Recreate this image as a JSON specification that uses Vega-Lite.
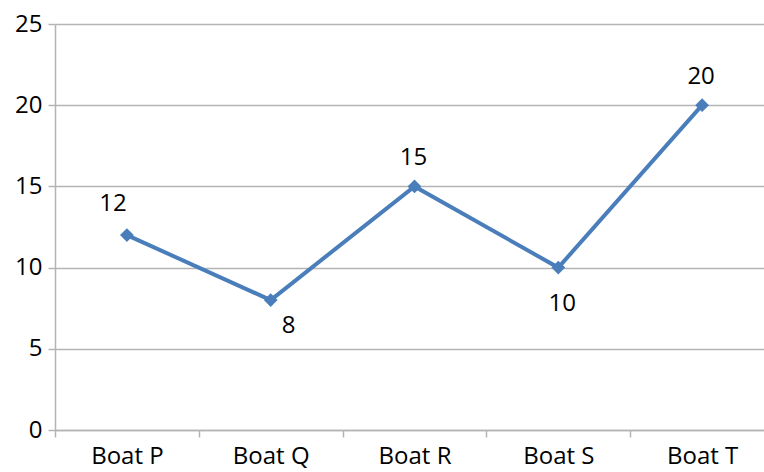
{
  "$schema": "https://vega.github.io/schema/vega-lite/v6.json",
  "autosize": "none",
  "padding": {"left": 55, "top": 24, "right": 0, "bottom": 42},
  "width": 719,
  "height": 406,
  "background": "white",
  "config": {
    "view": {"stroke": null},
    "font": "Open Sans"
  },
  "data": {
    "values": [
      {"boat": "Boat P", "value": 12},
      {"boat": "Boat Q", "value": 8},
      {"boat": "Boat R", "value": 15},
      {"boat": "Boat S", "value": 10},
      {"boat": "Boat T", "value": 20}
    ]
  },
  "encoding": {
    "x": {
      "field": "boat",
      "type": "nominal",
      "sort": null,
      "scale": {"type": "band", "paddingInner": 0, "paddingOuter": 0},
      "axis": {
        "title": null,
        "labelAngle": 0,
        "labelFontSize": 24,
        "labelColor": "#000000",
        "labelPadding": 7,
        "domainColor": "#b4b4b4",
        "domainWidth": 1.5,
        "tickColor": "#b4b4b4",
        "tickWidth": 1.5,
        "tickSize": 7,
        "tickBand": "extent",
        "grid": false
      }
    },
    "y": {
      "field": "value",
      "type": "quantitative",
      "scale": {"domain": [0, 25], "nice": false},
      "axis": {
        "title": null,
        "values": [0, 5, 10, 15, 20, 25],
        "labelFontSize": 24,
        "labelColor": "#000000",
        "labelPadding": 6,
        "domainColor": "#b4b4b4",
        "domainWidth": 1.5,
        "tickColor": "#b4b4b4",
        "tickWidth": 1.5,
        "tickSize": 7,
        "grid": true,
        "gridColor": "#b4b4b4",
        "gridWidth": 1.5
      }
    }
  },
  "layer": [
    {
      "mark": {"type": "line", "color": "#4A7EBB", "strokeWidth": 4}
    },
    {
      "mark": {"type": "point", "shape": "diamond", "filled": true, "color": "#4A7EBB", "size": 190, "opacity": 1}
    },
    {
      "transform": [{"filter": "datum.boat === 'Boat P'"}],
      "mark": {"type": "text", "fontSize": 24, "color": "#000000", "dy": -31, "dx": -14, "baseline": "middle"},
      "encoding": {"text": {"field": "value", "type": "quantitative"}}
    },
    {
      "transform": [{"filter": "datum.boat === 'Boat R' || datum.boat === 'Boat T'"}],
      "mark": {"type": "text", "fontSize": 24, "color": "#000000", "dy": -28, "dx": -1, "baseline": "middle"},
      "encoding": {"text": {"field": "value", "type": "quantitative"}}
    },
    {
      "transform": [{"filter": "datum.boat === 'Boat Q'"}],
      "mark": {"type": "text", "fontSize": 24, "color": "#000000", "dy": 26, "dx": 18, "baseline": "middle"},
      "encoding": {"text": {"field": "value", "type": "quantitative"}}
    },
    {
      "transform": [{"filter": "datum.boat === 'Boat S'"}],
      "mark": {"type": "text", "fontSize": 24, "color": "#000000", "dy": 36, "dx": 4, "baseline": "middle"},
      "encoding": {"text": {"field": "value", "type": "quantitative"}}
    }
  ]
}
